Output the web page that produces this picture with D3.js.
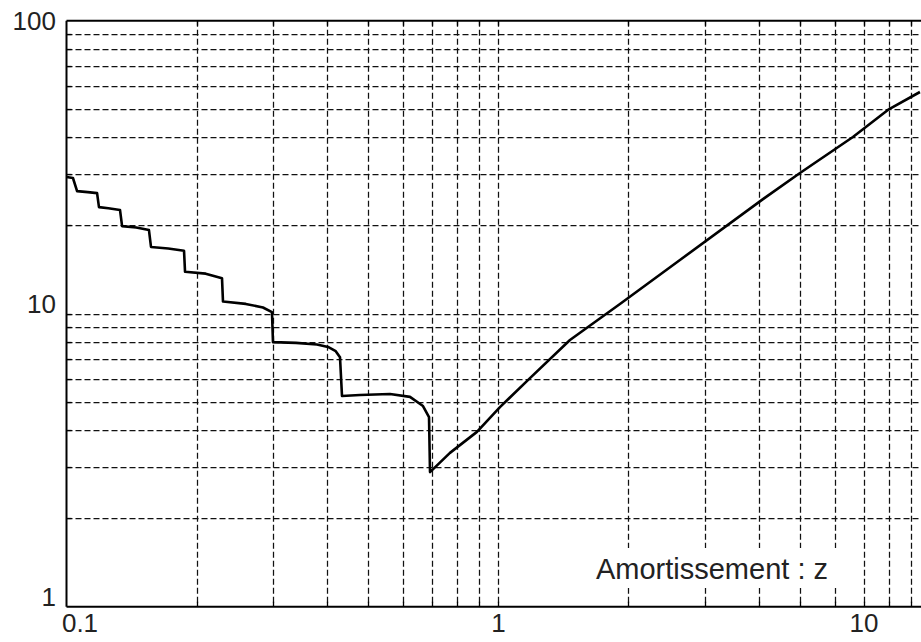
<!DOCTYPE html>
<html>
<head>
<meta charset="utf-8">
<script src="https://cdn.jsdelivr.net/npm/d3@7"></script>
<style>
  body { margin: 0; background: #fff; }
  svg { display: block; font-family: 'Liberation Sans', Arial, Helvetica, sans-serif; }
</style>
</head>
<body>
<div class="chart"></div>
<script>
'use strict'
// amortissement (z) vs rapport
var amort = [0.1, 0.1035, 0.1058, 0.112, 0.1177, 0.1189, 0.125, 0.133, 0.1345, 0.145, 0.1552, 0.1569,
  0.172, 0.1871, 0.1881, 0.21, 0.2291, 0.2303, 0.26, 0.285, 0.299, 0.3006, 0.34, 0.38, 0.4031, 0.42,
  0.4297, 0.4343, 0.4779, 0.5609, 0.624, 0.6688, 0.6906, 0.6943, 0.7722, 0.8916, 1.008, 1.183, 1.464,
  1.911, 2.631, 4.096, 4.989, 6.616, 7.97, 9.456]
var rapport = [29.3, 29.05, 26.2, 26.0, 25.8, 23.1, 22.9, 22.6, 19.9, 19.7, 19.3, 16.9,
  16.7, 16.4, 13.9, 13.7, 13.2, 11.0, 10.8, 10.5, 10.13, 8.0, 7.95, 7.85, 7.7, 7.45,
  7.1, 5.24, 5.28, 5.32, 5.2, 4.84, 4.44, 2.88, 3.35, 3.95, 4.8, 6.03, 8.13,
  10.79, 15.25, 24.6, 30.2, 40.1, 49.6, 57.1]
var xTickLabels = [0.1, 1, 10]
var yTickLabels = [1, 10, 100]
var xGrid = [0.2, 0.3, 0.4, 0.5, 0.6, 0.7, 0.8, 0.9, 1, 2, 3, 4, 5, 6, 7, 8, 9]
var yGrid = [2, 3, 4, 5, 6, 7, 8, 9, 10, 20, 30, 40, 50, 60, 70, 80, 90]
var note = 'Amortissement : z'

var width = 921
var height = 642
var plotLeft = 66.5
var plotTop = 20.7
var plotBottom = 606.7

var x = d3.scaleLog().domain([0.1, 9.51]).range([plotLeft, width])
var y = d3.scaleLog().domain([1, 100]).range([plotBottom, plotTop])

var px = function (d) { return Math.round(x(d)) + 0.5 }
var py = function (d) { return Math.round(y(d)) + 0.5 }

var svg = d3.select('.chart').append('svg')
  .attr('width', width)
  .attr('height', height)

// dashed grid
var grid = svg.append('g')
  .attr('stroke', '#111')
  .attr('stroke-width', 1.25)
  .attr('stroke-dasharray', '6,3')
  .attr('fill', 'none')

grid.selectAll('.vx').data(xGrid).enter().append('line')
  .attr('x1', px).attr('x2', px)
  .attr('y1', plotTop).attr('y2', plotBottom)

grid.selectAll('.hy').data(yGrid).enter().append('line')
  .attr('x1', plotLeft).attr('x2', width)
  .attr('y1', py).attr('y2', py)

// small inner ticks on the frame
var ticks = svg.append('g').attr('stroke', '#000').attr('stroke-width', 1.3)
ticks.selectAll('.tb').data(xGrid).enter().append('line')
  .attr('x1', px).attr('x2', px)
  .attr('y1', plotBottom).attr('y2', plotBottom - 5)
ticks.selectAll('.tt').data(xGrid).enter().append('line')
  .attr('x1', px).attr('x2', px)
  .attr('y1', plotTop).attr('y2', plotTop + 5)
ticks.selectAll('.tl').data(yGrid).enter().append('line')
  .attr('x1', plotLeft).attr('x2', plotLeft + 5)
  .attr('y1', py).attr('y2', py)

// frame: left, top, bottom
var frame = svg.append('g').attr('stroke', '#000').attr('stroke-width', 2)
frame.append('line').attr('x1', plotLeft).attr('x2', plotLeft).attr('y1', plotTop).attr('y2', plotBottom)
frame.append('line').attr('x1', plotLeft).attr('x2', width).attr('y1', plotTop).attr('y2', plotTop)
frame.append('line').attr('x1', plotLeft).attr('x2', width).attr('y1', plotBottom).attr('y2', plotBottom)

// tick labels, kept inside the picture
svg.append('g').selectAll('text')
  .data(xTickLabels)
  .enter().append('text')
  .attr('x', function (d) { return Math.min(Math.max(x(d), 80), 864) })
  .attr('y', 632)
  .attr('text-anchor', 'middle')
  .attr('font-size', 26)
  .attr('fill', '#222')
  .text(function (d) { return d })

svg.append('g').selectAll('text')
  .data(yTickLabels)
  .enter().append('text')
  .attr('x', 56)
  .attr('y', function (d) { return Math.max(y(d) - 10, 21) })
  .attr('dy', '0.36em')
  .attr('text-anchor', 'end')
  .attr('font-size', 26)
  .attr('fill', '#222')
  .text(function (d) { return d })

// the curve
var pts = d3.zip(amort, rapport)
var line = d3.line()
  .x(function (d) { return x(d[0]) })
  .y(function (d) { return y(d[1]) })

svg.append('path')
  .datum(pts)
  .attr('fill', 'none')
  .attr('stroke', '#000')
  .attr('stroke-width', 2.6)
  .attr('stroke-linejoin', 'round')
  .attr('d', line)

// annotation box
svg.append('rect')
  .attr('x', 585).attr('y', 548)
  .attr('width', 253).attr('height', 40)
  .attr('fill', '#fff')
svg.append('text')
  .attr('x', 828)
  .attr('y', 579)
  .attr('text-anchor', 'end')
  .attr('font-size', 29)
  .attr('fill', '#222')
  .text(note)
</script>
</body>
</html>
